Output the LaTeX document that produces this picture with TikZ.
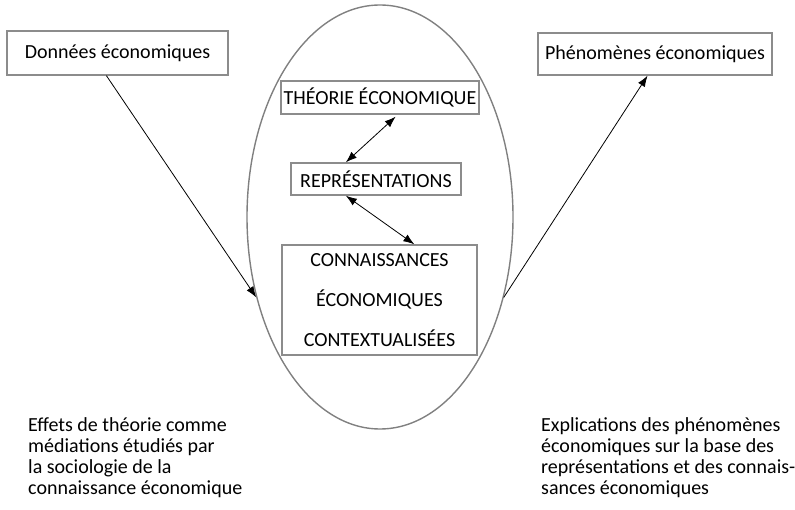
\documentclass[tikz,border=0pt]{standalone}
\usepackage{fontspec}
\setmainfont{Carlito}
\usetikzlibrary{arrows,arrows.meta,shapes}
\tikzstyle{box}=[rectangle,draw=black!45,line width=1.4pt,inner sep=0pt,font=\fontsize{20}{21}\selectfont]
\tikzstyle{oval}=[ellipse,draw=black!50,line width=1.4pt,inner sep=0pt,minimum width=266pt,minimum height=424pt]
\tikzstyle{edge} = [draw,line width=0.8pt,-{Latex[length=11pt,width=8pt]}]
\tikzstyle{dbledge} = [draw,line width=0.8pt,{Latex[length=11pt,width=8pt]}-{Latex[length=11pt,width=8pt]}]
\tikzstyle{txt} = [align=left,inner sep=0pt,font=\fontsize{20}{21}\selectfont]
\begin{document}
\begin{tikzpicture}[x=1pt,y=-1pt]
\useasboundingbox (0,0) rectangle (795,510);

% ellipse
\node[oval] (ell) at (380,217) {};

% outer boxes
\node[box,minimum width=221pt,minimum height=44pt] (don) at (117.5,53) {Données économiques};
\node[box,minimum width=234pt,minimum height=42pt] (phe) at (655,54) {Phénomènes économiques};

% inner boxes
\node[box,minimum width=198pt,minimum height=33pt] (theo) at (380,97.5) {THÉORIE ÉCONOMIQUE};
\node[box,minimum width=170pt,minimum height=32pt] (rep) at (376,179) {REPRÉSENTATIONS};
\node[box,minimum width=195pt,minimum height=110pt,align=center,font=\fontsize{20}{40}\selectfont] (conn) at (379.5,300)
   {CONNAISSANCES\\ÉCONOMIQUES\\CONTEXTUALISÉES};

% connectors
\path[dbledge,shorten >=3pt] (rep.151) -- (theo.-44);
\path[dbledge] (rep.209) -- (conn.58);
\path[edge] (don.244) -- (ell.213);
\path[edge] (ell.327) -- (phe.251);

% captions
\node[txt,anchor=base west] (capl) at (28,494) {Effets de théorie comme\\médiations étudiés par\\la sociologie de la\\connaissance économique};
\node[txt,anchor=base west] (capr) at (541,494) {Explications des phénomènes\\économiques sur la base des\\représentations et des connais-\\sances économiques};

\end{tikzpicture}
\end{document}
